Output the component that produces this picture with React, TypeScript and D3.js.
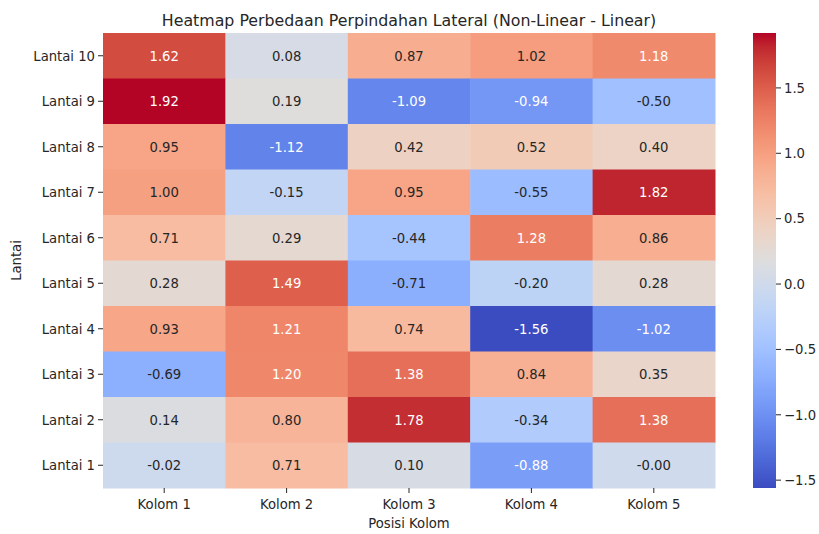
import React from "react";
import * as d3 from "d3";

// rows top to bottom, as they appear in the chart
const rows = ["Lantai 10", "Lantai 9", "Lantai 8", "Lantai 7", "Lantai 6", "Lantai 5", "Lantai 4", "Lantai 3", "Lantai 2", "Lantai 1"];
const cols = ["Kolom 1", "Kolom 2", "Kolom 3", "Kolom 4", "Kolom 5"];

const lantai10 = [1.62, 0.08, 0.87, 1.02, 1.18];
const lantai9 = [1.92, 0.19, -1.09, -0.94, -0.5];
const lantai8 = [0.95, -1.12, 0.42, 0.52, 0.4];
const lantai7 = [1.0, -0.15, 0.95, -0.55, 1.82];
const lantai6 = [0.71, 0.29, -0.44, 1.28, 0.86];
const lantai5 = [0.28, 1.49, -0.71, -0.2, 0.28];
const lantai4 = [0.93, 1.21, 0.74, -1.56, -1.02];
const lantai3 = [-0.69, 1.2, 1.38, 0.84, 0.35];
const lantai2 = [0.14, 0.8, 1.78, -0.34, 1.38];
const lantai1 = [-0.02, 0.71, 0.1, -0.88, -0.004];

const cbarTicks = [1.5, 1.0, 0.5, 0.0, -0.5, -1.0, -1.5];

const matrix = [lantai10, lantai9, lantai8, lantai7, lantai6, lantai5, lantai4, lantai3, lantai2, lantai1];

// matplotlib coolwarm (Moreland), 33 control points
const coolwarmRGB = [
  [59, 76, 192], [68, 90, 204], [77, 104, 215], [87, 117, 225], [98, 130, 234],
  [108, 142, 241], [119, 154, 247], [130, 165, 251], [141, 176, 254], [152, 185, 255],
  [163, 194, 255], [174, 201, 253], [184, 208, 249], [194, 213, 244], [204, 217, 238],
  [213, 219, 230], [221, 221, 221], [229, 216, 209], [236, 211, 197], [241, 204, 185],
  [245, 196, 173], [247, 187, 160], [247, 177, 148], [247, 166, 135], [244, 154, 123],
  [241, 141, 111], [236, 127, 99], [229, 112, 88], [222, 96, 77], [213, 80, 66],
  [203, 62, 56], [192, 40, 47], [180, 4, 38],
];

const W = 819;
const H = 534;
const margin = { top: 33, left: 103, right: 104, bottom: 46 };
const FONT = "DejaVu Sans, sans-serif";

export default function App() {
  const all = matrix.flat();
  const vmin = d3.min(all) as number;
  const vmax = d3.max(all) as number;

  const cmap = d3
    .scaleLinear<string>()
    .domain(coolwarmRGB.map((_, i) => i / (coolwarmRGB.length - 1)))
    .range(coolwarmRGB.map((c) => `rgb(${c[0]},${c[1]},${c[2]})`))
    .interpolate(d3.interpolateRgb)
    .clamp(true);
  const norm = d3.scaleLinear().domain([vmin, vmax]).range([0, 1]).clamp(true);
  const color = (v: number) => cmap(norm(v));

  const x = d3.scaleBand().domain(cols).range([margin.left, W - margin.right]);
  const y = d3.scaleBand().domain(rows).range([margin.top, H - margin.bottom]);

  // seaborn picks annotation colour from relative luminance
  const textColor = (v: number) => {
    const c = d3.rgb(color(v));
    const lin = (u: number) => {
      u = u / 255;
      return u <= 0.03928 ? u / 12.92 : Math.pow((u + 0.055) / 1.055, 2.4);
    };
    const lum = 0.2126 * lin(c.r) + 0.7152 * lin(c.g) + 0.0722 * lin(c.b);
    return lum > 0.408 ? "#262626" : "#ffffff";
  };

  // colorbar
  const cbX = 753;
  const cbW = 23;
  const cbY = d3.scaleLinear().domain([vmin, vmax]).range([H - margin.bottom, margin.top]);
  const stops = d3.range(0, 1.0001, 1 / 64);

  const fmtCbar = (v: number) => (v < 0 ? "\u2212" : "") + Math.abs(v).toFixed(1);

  return (
    <div style={{ position: "fixed", left: 0, top: 0 }}>
      <svg width={W} height={H} style={{ display: "block", background: "#fff" }} fontFamily={FONT}>
        <defs>
          <linearGradient id="cbar" x1="0" y1="1" x2="0" y2="0">
            {stops.map((t) => (
              <stop key={t} offset={t} stopColor={cmap(t)} />
            ))}
          </linearGradient>
        </defs>

        <text x={(margin.left + W - margin.right) / 2} y={26} textAnchor="middle" fontSize={15.8} fill="#262626">
          Heatmap Perbedaan Perpindahan Lateral (Non-Linear - Linear)
        </text>

        {matrix.map((row, i) =>
          row.map((v, j) => (
            <g key={`${i}-${j}`}>
              <rect
                x={x(cols[j])}
                y={y(rows[i])}
                width={x.bandwidth() + 0.5}
                height={y.bandwidth() + 0.5}
                fill={color(v)}
              />
              <text
                x={(x(cols[j]) as number) + x.bandwidth() / 2}
                y={(y(rows[i]) as number) + y.bandwidth() / 2}
                dy="0.36em"
                textAnchor="middle"
                fontSize={13.2}
                fill={textColor(v)}
              >
                {v.toFixed(2)}
              </text>
            </g>
          ))
        )}

        {/* y axis */}
        {rows.map((r) => {
          const cy = (y(r) as number) + y.bandwidth() / 2;
          return (
            <g key={r}>
              <line x1={margin.left - 5} x2={margin.left} y1={cy} y2={cy} stroke="#262626" strokeWidth={1} />
              <text x={margin.left - 8} y={cy} dy="0.36em" textAnchor="end" fontSize={13.2} fill="#262626">
                {r}
              </text>
            </g>
          );
        })}
        <text
          transform={`translate(21,${(margin.top + H - margin.bottom) / 2}) rotate(-90)`}
          textAnchor="middle"
          fontSize={13.2}
          fill="#262626"
        >
          Lantai
        </text>

        {/* x axis */}
        {cols.map((c) => {
          const cx = (x(c) as number) + x.bandwidth() / 2;
          return (
            <g key={c}>
              <line x1={cx} x2={cx} y1={H - margin.bottom} y2={H - margin.bottom + 5} stroke="#262626" strokeWidth={1} />
              <text x={cx} y={H - margin.bottom + 21} textAnchor="middle" fontSize={13.2} fill="#262626">
                {c}
              </text>
            </g>
          );
        })}
        <text x={(margin.left + W - margin.right) / 2} y={528} textAnchor="middle" fontSize={13.2} fill="#262626">
          Posisi Kolom
        </text>

        {/* colorbar */}
        <rect x={cbX} y={margin.top} width={cbW} height={H - margin.top - margin.bottom} fill="url(#cbar)" />
        {cbarTicks.map((t) => (
          <g key={t}>
            <line x1={cbX + cbW} x2={cbX + cbW + 5} y1={cbY(t)} y2={cbY(t)} stroke="#262626" strokeWidth={1} />
            <text x={cbX + cbW + 8} y={cbY(t)} dy="0.36em" fontSize={13.2} fill="#262626">
              {fmtCbar(t)}
            </text>
          </g>
        ))}
      </svg>
    </div>
  );
}
